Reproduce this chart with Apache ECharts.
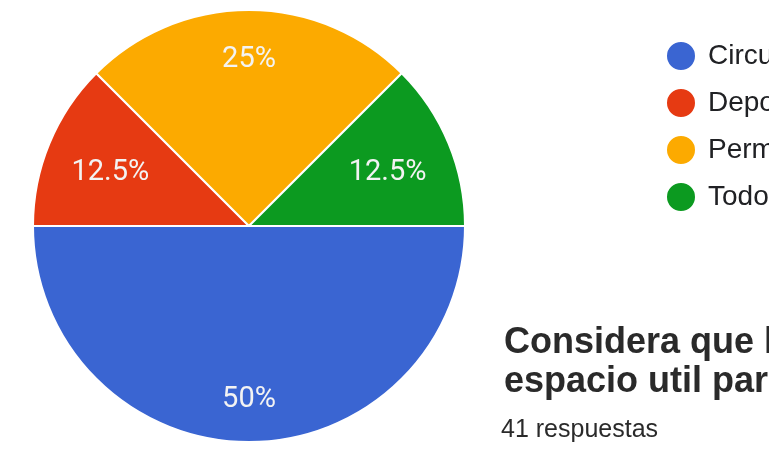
<!DOCTYPE html>
<html><head><meta charset="utf-8">
<script src="https://cdn.jsdelivr.net/npm/echarts@6/dist/echarts.min.js"></script>
<style>html,body{margin:0;padding:0;background:#fff;overflow:hidden}#c{width:769px;height:455px}</style>
</head><body><div id="c"></div>
<script>
const categories = ['Circulación', 'Deportes', 'Permanencia', 'Todos'];
const values = [50, 12.5, 25, 12.5];
const colors = ['#3a65d2', '#e63a12', '#fcaa00', '#0c9a20'];
const titleLines = ['Considera que la plaza es un', 'espacio util para la comunidad?'];
const subtitle = '41 respuestas';

const chart = echarts.init(document.getElementById('c'), null, {renderer: 'canvas'});
const labelFont = 'Roboto, "Liberation Sans", Arial, sans-serif';
const textFont = '"Liberation Sans", Arial, sans-serif';
const C = [249, 226];
const labelC = [249, 230];
const R = 216;
const data = categories.map((n, i) => ({name: n, value: values[i], itemStyle: {color: colors[i]}}));
function overlay(r0, showFn) {
  return {
    type: 'pie', center: labelC, radius: [r0, R], startAngle: 0, clockwise: true,
    silent: true, legendHoverLink: false,
    data: categories.map((n, i) => ({name: n, value: values[i],
      itemStyle: {color: 'rgba(0,0,0,0)', borderWidth: 0},
      label: {show: showFn(values[i])}})),
    label: {position: 'inside', formatter: p => p.value + '%', color: '#f3f3f3',
      fontSize: 29, fontFamily: labelFont},
    labelLine: {show: false}, emphasis: {disabled: true}, tooltip: {show: false}
  };
}
chart.setOption({
  animation: false,
  color: colors,
  legend: {
    orient: 'vertical', left: 665, top: 40, itemWidth: 30, itemHeight: 30, itemGap: 15,
    icon: 'circle', data: categories, padding: 0,
    textStyle: {fontSize: 28, lineHeight: 30, color: '#202124', fontFamily: textFont, padding: [0, 0, 0, 7]}
  },
  series: [
    {
      type: 'pie', center: C, radius: [0, R], startAngle: 0, clockwise: true,
      data: data,
      itemStyle: {borderColor: '#ffffff', borderWidth: 2},
      label: {show: false}, labelLine: {show: false}
    },
    overlay(118, v => v >= 25),
    overlay(78, v => v < 25)
  ],
  graphic: [
    {type: 'text', left: 504, top: 324, style: {text: titleLines.join('\n'), fontSize: 36, fontWeight: 'bold',
      lineHeight: 39, fill: '#2a2a2a', fontFamily: textFont}},
    {type: 'text', left: 501, top: 418, style: {text: subtitle, fontSize: 25, lineHeight: 25, fill: '#2a2a2a', fontFamily: textFont}}
  ]
});
</script></body></html>
